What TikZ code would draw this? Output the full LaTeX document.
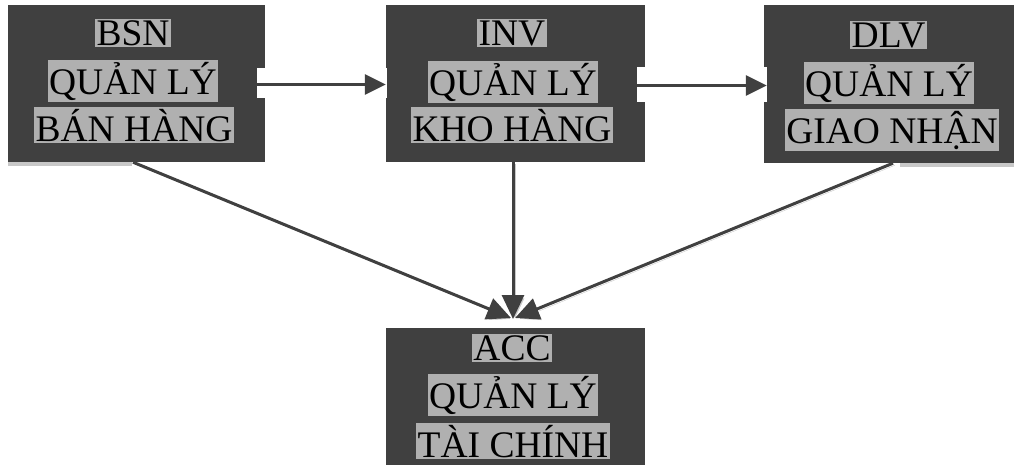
\documentclass[tikz,border=0pt]{standalone}
\usepackage{fontspec}
\setmainfont{Liberation Serif}
\usetikzlibrary{arrows.meta,calc}
\definecolor{boxgray}{HTML}{404040}
\definecolor{bandgray}{HTML}{B0B0B0}
\definecolor{shgray}{HTML}{C8C8C8}
\begin{document}
\begin{tikzpicture}[x=1pt,y=-1pt,
  box/.style={rectangle, fill=boxgray, draw=none, inner sep=0pt},
  lbl/.style={fill=bandgray, text=black, inner sep=1.5pt, anchor=base,
              font=\fontsize{37.5}{44}\selectfont},
  arr/.style={draw=boxgray, line width=3pt, -{Triangle[length=24pt,width=22pt]}},
  harr/.style={draw=boxgray, line width=3pt, -{Triangle[length=21pt,width=20pt]}},
  shadowed/.style={preaction={draw=shgray, transform canvas={xshift=2pt,yshift=-2pt}}}]
\useasboundingbox (0,0) rectangle (1015,474);

% box shadows (visible parts)
\fill[shgray] (8,162) rectangle (132,165.5);
\fill[shgray] (900,163) rectangle (1014,166.5);

% boxes
\node[box, minimum width=257pt, minimum height=157pt] (bsn) at (136.5,83.5) {};
\node[box, minimum width=259pt, minimum height=157pt] (inv) at (515.5,83.5) {};
\node[box, minimum width=250pt, minimum height=158pt] (dlv) at (889,84) {};
\node[box, minimum width=259pt, minimum height=137pt] (acc) at (515.5,396.5) {};

% labels
\node[lbl] (bsn1) at (133,45) {BSN};
\node[lbl] (bsn2) at (133,94) {QUẢN LÝ};
\node[lbl] (bsn3) at (134,141) {BÁN HÀNG};
\node[lbl] (inv1) at (512,45) {INV};
\node[lbl] (inv2) at (513,95) {QUẢN LÝ};
\node[lbl] (inv3) at (512,141) {KHO HÀNG};
\node[lbl] (dlv1) at (888.5,47) {DLV};
\node[lbl] (dlv2) at (889,96) {QUẢN LÝ};
\node[lbl] (dlv3) at (892,143) {GIAO NHẬN};
\node[lbl] (acc1) at (512,360) {ACC};
\node[lbl] (acc2) at (513,408) {QUẢN LÝ};
\node[lbl] (acc3) at (513,457) {TÀI CHÍNH};

% white bands behind horizontal connectors
\fill[white] ($(bsn.east)+(-8,-15.5)$) rectangle ($(inv.west)+(1,14.5)$);
\fill[white] ($(inv.east)+(-8,-16.5)$) rectangle ($(dlv.west)+(3,17.5)$);

% horizontal connectors
\draw[harr] ($(bsn.east)+(-8,1)$) -- (inv.west |- 0,84.5);
\draw[harr] ($(inv.east)+(-8,2)$) -- ($(dlv.west |- 0,85.5)+(3,0)$);

% converging connectors
\coordinate (tipL) at (511,318);
\coordinate (tipM) at (513,319);
\coordinate (tipR) at (515,318);
\draw[arr, shadowed] ($(bsn.south)+(-3.5,0)$) -- (tipL);
\draw[arr, shadowed] ($(inv.south)+(-2.5,0)$) -- (tipM);
\draw[arr, shadowed] ($(dlv.south)+(4,0)$) -- (tipR);
\end{tikzpicture}
\end{document}
